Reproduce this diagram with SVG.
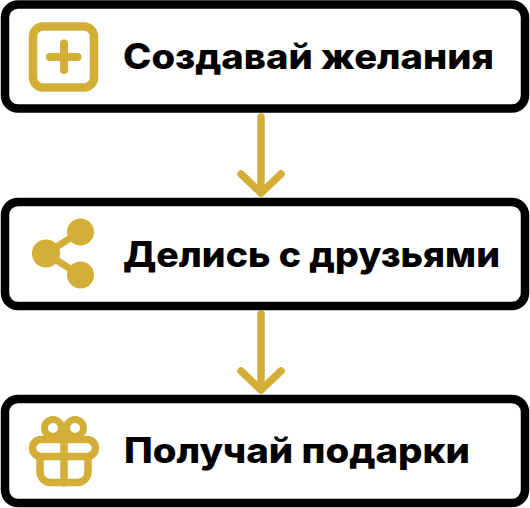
<svg xmlns="http://www.w3.org/2000/svg" width="530" height="508" viewBox="0 0 530 508">
<style>
.box{fill:#fff;stroke:#000;stroke-width:8.500}
.g{fill:none;stroke:#d4af37;stroke-linecap:round;stroke-linejoin:round}
.f{fill:#d4af37}
.t{font-family:"Inter","Noto Sans",sans-serif;font-weight:800;font-size:35px;fill:#000}
</style>
<rect width="530" height="508" fill="#fff"/>
<g id="connectors">
<path class="g" stroke-width="7.500" d="M261 117V192M241 174L261 193L281 174"/>
<path class="g" stroke-width="7.500" d="M261 314V389M241 371L261 390L281 371"/>
</g>
<g id="node-create">
<rect class="box" x="5" y="4.500" width="520" height="104" rx="13"/>
<rect class="g" stroke-width="8.500" x="33" y="26.500" width="61" height="61" rx="10"/>
<path class="g" stroke-width="8" d="M50 57H77.500M64 43.500V70"/>
<text class="t" x="123" y="69" textLength="371" lengthAdjust="spacingAndGlyphs">Создавай желания</text>
</g>
<g id="node-share">
<rect class="box" x="5" y="202" width="520" height="104" rx="13"/>
<path class="g" stroke-width="7" d="M80 232L46 253.500L80 275"/>
<circle class="f" cx="80.500" cy="232" r="13.500"/>
<circle class="f" cx="80.500" cy="275" r="13.500"/>
<circle class="f" cx="46" cy="253.500" r="14"/>
<text class="t" x="123" y="267" textLength="377" lengthAdjust="spacingAndGlyphs">Делись с друзьями</text>
</g>
<g id="node-gifts">
<rect class="box" x="5" y="399" width="520" height="104" rx="13"/>
<path class="g" stroke-width="7.500" d="M40 460V472A10.500 10.500 0 0 0 50.500 482.500H77.500A10.500 10.500 0 0 0 88 472V460M64 426V483"/>
<circle class="g" stroke-width="7" cx="53" cy="428" r="8.500"/>
<circle class="g" stroke-width="7" cx="75" cy="428" r="8.500"/>
<rect class="g" stroke-width="7.500" x="32.500" y="439.500" width="63" height="17" rx="8.500"/>
<text class="t" x="124" y="463" textLength="346" lengthAdjust="spacingAndGlyphs">Получай подарки</text>
</g>
</svg>
